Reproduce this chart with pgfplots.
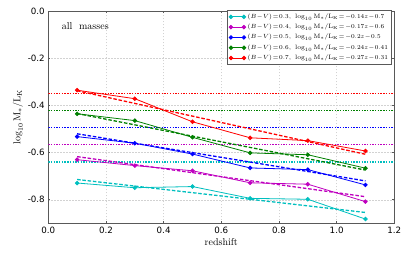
\documentclass[border=0pt]{standalone}
\usepackage{pgfplots}
\pgfplotsset{compat=1.18}
\usepackage{fontspec}
\newfontfamily\dejavu{DejaVu Sans}
\definecolor{mplc}{rgb}{0,0.75,0.75}
\definecolor{mplm}{rgb}{0.75,0,0.75}
\definecolor{mplb}{rgb}{0,0,1}
\definecolor{mplg}{rgb}{0,0.5,0}
\definecolor{mplr}{rgb}{1,0,0}
\begin{document}
\begin{tikzpicture}
\begin{axis}[
  scale only axis, width=346pt, height=212pt,
  xmin=0, xmax=1.2, ymin=-0.9, ymax=0,
  xtick={0,0.2,0.4,0.6,0.8,1.0,1.2},
  xticklabels={0.0,0.2,0.4,0.6,0.8,1.0,1.2},
  ytick={-0.8,-0.6,-0.4,-0.2,0},
  yticklabels={-0.8,-0.6,-0.4,-0.2,0.0},
  ticklabel style={font=\dejavu\fontsize{8.7}{10}\selectfont},
  tick align=inside, major tick length=2pt,
  tick style={gray!70!black, line width=0.5pt},
  axis line style={draw=gray!70!black, line width=0.8pt},
  grid=major,
  major grid style={gray!35, dash pattern=on 1.5pt off 1.5pt, line width=0.4pt},
  xlabel={redshift},
  ylabel={$\log_{10}\mathrm{M_*/L_K}$},
  label style={font=\fontsize{10}{12}\selectfont},
  xlabel style={yshift=2pt},
  ylabel style={yshift=-2pt},
  legend cell align=left,
  legend style={at={(0.993,1.006)}, anchor=north east, draw=gray!70!black,
    font=\fontsize{6.3}{7.5}\selectfont, row sep=0.3pt, inner sep=1.5pt,
    line width=0.6pt},
  legend image code/.code={\draw[#1] plot coordinates {(0pt,0pt) (13pt,0pt)};},
  mark size=1.8pt,
]
% dotted horizontal lines
\addplot[mplc, forget plot, no marks, line width=1.4pt, dash pattern=on 1.4pt off 1.3pt] coordinates {(0,-0.640) (1.2,-0.640)};
\addplot[mplm, forget plot, no marks, line width=1.4pt, dash pattern=on 1.4pt off 1.3pt] coordinates {(0,-0.566) (1.2,-0.566)};
\addplot[mplb, forget plot, no marks, line width=1.4pt, dash pattern=on 1.4pt off 1.3pt] coordinates {(0,-0.494) (1.2,-0.494)};
\addplot[mplg, forget plot, no marks, line width=1.4pt, dash pattern=on 1.4pt off 1.3pt] coordinates {(0,-0.422) (1.2,-0.422)};
\addplot[mplr, forget plot, no marks, line width=1.4pt, dash pattern=on 1.4pt off 1.3pt] coordinates {(0,-0.350) (1.2,-0.350)};
% dashed fits
\addplot[mplc, forget plot, no marks, line width=1.3pt, dash pattern=on 3.5pt off 1.8pt] coordinates {(0.1,-0.714) (1.1,-0.854)};
\addplot[mplm, forget plot, no marks, line width=1.3pt, dash pattern=on 3.5pt off 1.8pt] coordinates {(0.1,-0.617) (1.1,-0.787)};
\addplot[mplb, forget plot, no marks, line width=1.3pt, dash pattern=on 3.5pt off 1.8pt] coordinates {(0.1,-0.520) (1.1,-0.720)};
\addplot[mplg, forget plot, no marks, line width=1.3pt, dash pattern=on 3.5pt off 1.8pt] coordinates {(0.1,-0.434) (1.1,-0.674)};
\addplot[mplr, forget plot, no marks, line width=1.3pt, dash pattern=on 3.5pt off 1.8pt] coordinates {(0.1,-0.337) (1.1,-0.607)};
% solid series
\addplot[mplc, line width=0.8pt, mark=*] coordinates {(0.1,-0.729) (0.3,-0.749) (0.5,-0.744) (0.7,-0.794) (0.9,-0.798) (1.1,-0.882)};
\addlegendentry{$(B\!-\!V)\!=\!0.3,\ \log_{10}\mathrm{M_*/L_K}\!=\!-0.14z\!-\!0.7$}
\addplot[mplm, line width=0.8pt, mark=*] coordinates {(0.1,-0.630) (0.3,-0.655) (0.5,-0.677) (0.7,-0.728) (0.9,-0.734) (1.1,-0.808)};
\addlegendentry{$(B\!-\!V)\!=\!0.4,\ \log_{10}\mathrm{M_*/L_K}\!=\!-0.17z\!-\!0.6$}
\addplot[mplb, line width=0.8pt, mark=*] coordinates {(0.1,-0.532) (0.3,-0.560) (0.5,-0.606) (0.7,-0.665) (0.9,-0.672) (1.1,-0.737)};
\addlegendentry{$(B\!-\!V)\!=\!0.5,\ \log_{10}\mathrm{M_*/L_K}\!=\!-0.2z\!-\!0.5$}
\addplot[mplg, line width=0.8pt, mark=*] coordinates {(0.1,-0.435) (0.3,-0.464) (0.5,-0.535) (0.7,-0.601) (0.9,-0.609) (1.1,-0.666)};
\addlegendentry{$(B\!-\!V)\!=\!0.6,\ \log_{10}\mathrm{M_*/L_K}\!=\!-0.24z\!-\!0.41$}
\addplot[mplr, line width=0.8pt, mark=*] coordinates {(0.1,-0.335) (0.3,-0.371) (0.5,-0.469) (0.7,-0.537) (0.9,-0.549) (1.1,-0.593)};
\addlegendentry{$(B\!-\!V)\!=\!0.7,\ \log_{10}\mathrm{M_*/L_K}\!=\!-0.27z\!-\!0.31$}
\node[anchor=west, font=\fontsize{10}{12}\selectfont] at (axis cs:0.035,-0.062) {all~~masses};
\end{axis}
\pgfresetboundingbox
\path (current axis.south west) ++(-48.3pt,-31.7pt) rectangle ++(407pt,255pt);
\end{tikzpicture}
\end{document}
